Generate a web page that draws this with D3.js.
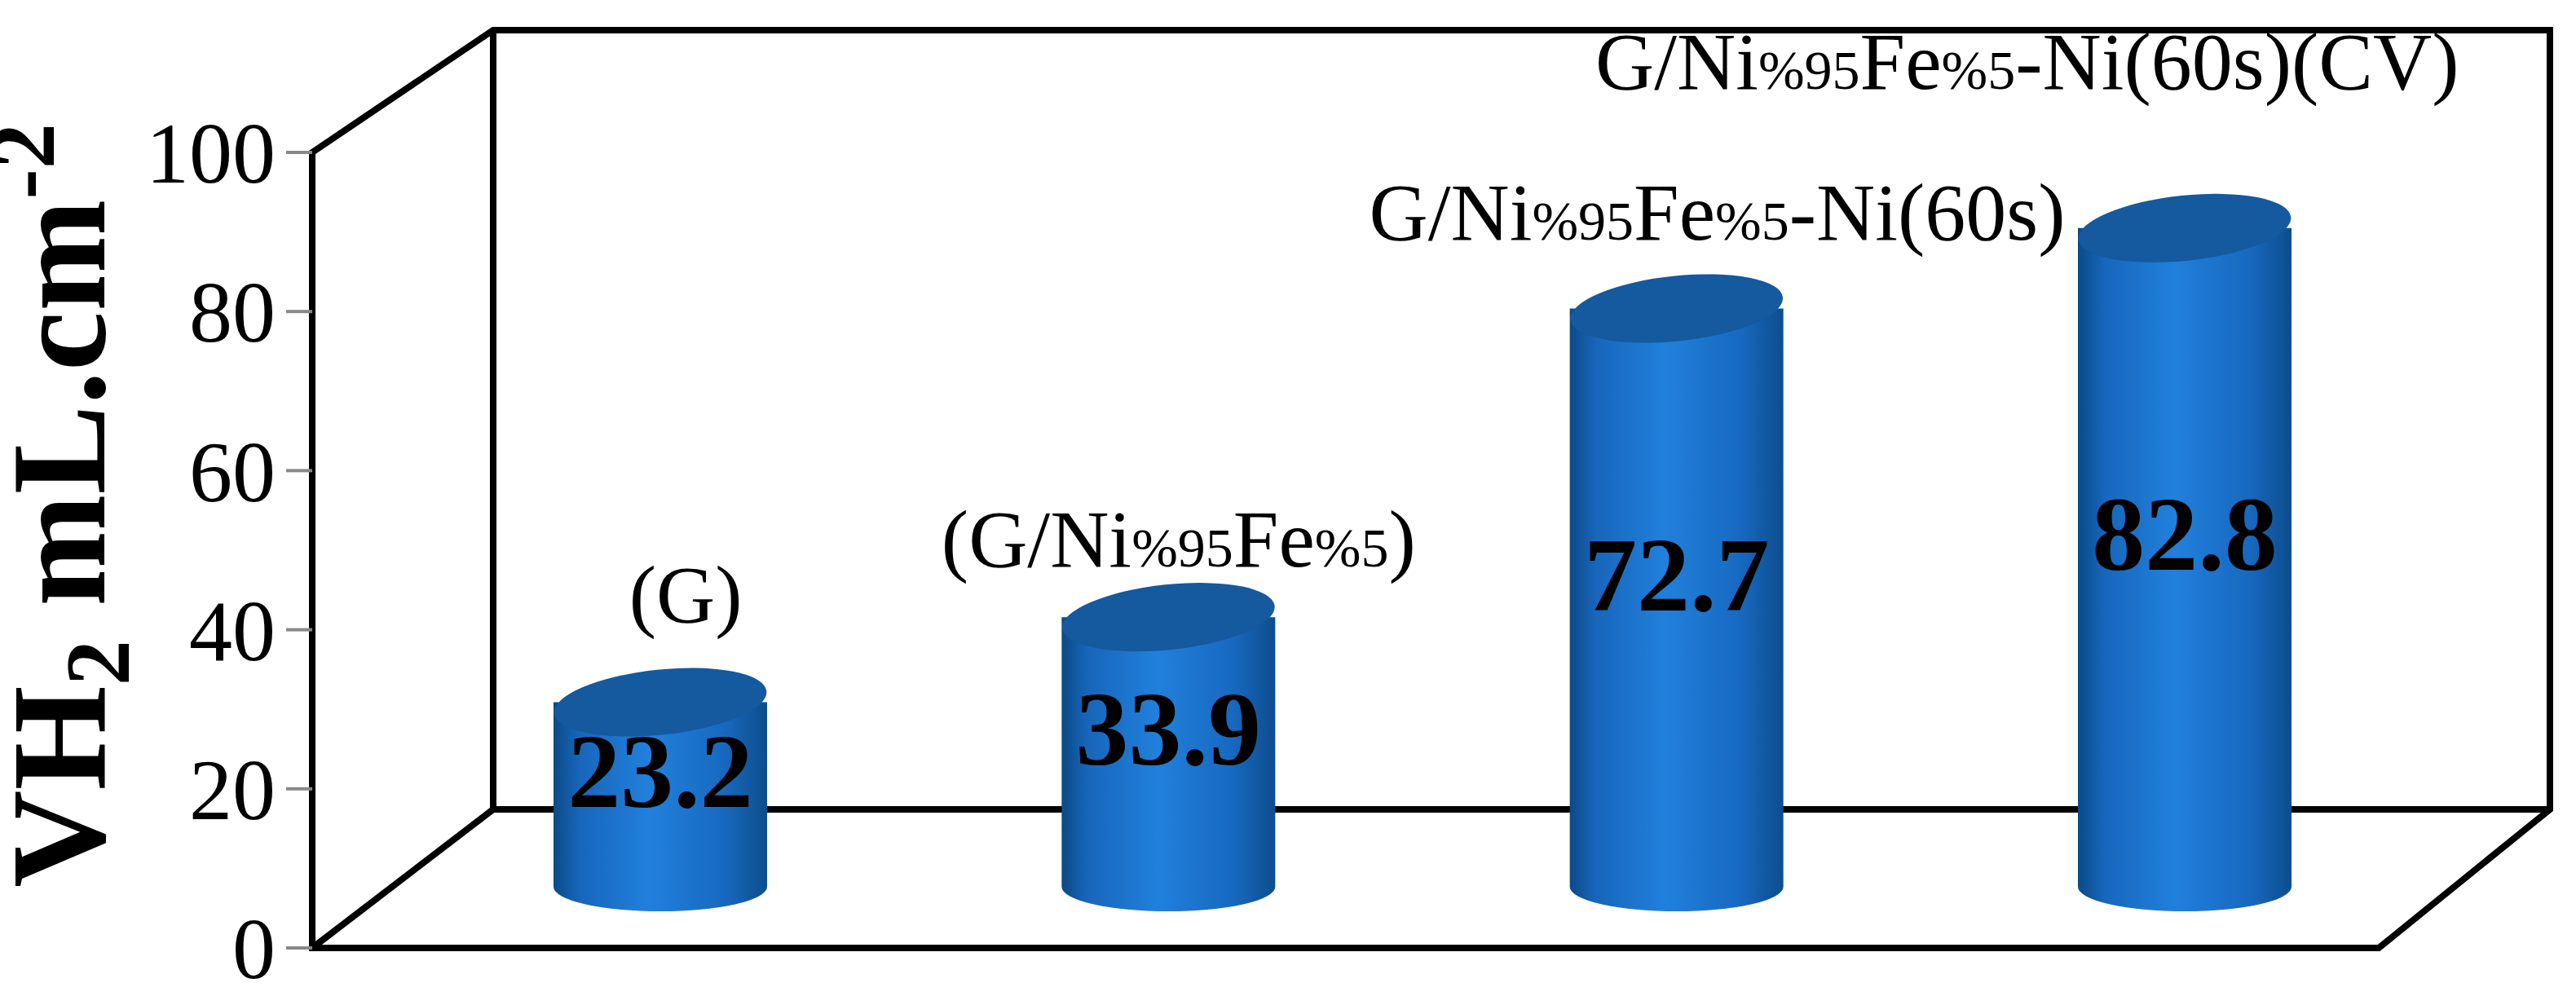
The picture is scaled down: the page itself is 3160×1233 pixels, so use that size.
<!DOCTYPE html>
<html><head><meta charset="utf-8">
<script src="https://cdn.jsdelivr.net/npm/d3@7"></script>
<style>body{margin:0;background:#fff}svg{display:block;font-family:"Liberation Serif","Times New Roman",serif}</style>
</head><body><div id="chart"></div>
<script>
var categories = ['(G)', '(G/Ni%95Fe%5)', 'G/Ni%95Fe%5-Ni(60s)', 'G/Ni%95Fe%5-Ni(60s)(CV)']
var values = [23.2, 33.9, 72.7, 82.8]
var yTicks = [0, 20, 40, 60, 80, 100]
// label anchors (value units, and shift in bar steps)
var labelY = [41, 48, 89, 108]
var labelDx = [0.05, 0.02, 0.08, -0.31]

var width = 3160, height = 1233
var svg = d3.select('#chart').append('svg').attr('width', width).attr('height', height)

var y = d3.scaleLinear().domain([0, 100]).range([1163, 187])
var depth = {dx: 222, dy: -170}
var x0 = 383, x1 = 2918
var x = d3.scalePoint().domain(d3.range(4)).range([810, 2680])
var barMid = {dx: 0, dy: -75}

// box lines
var g = svg.append('g').attr('fill', 'none').attr('stroke', '#000').attr('stroke-width', 8).attr('stroke-linejoin', 'miter')
var bx0 = x0 + depth.dx, bx1 = 3128
g.append('path').attr('d', `M${x0},${y(100)} L${bx0},${y(100) + depth.dy + 20} L${bx1},${y(100) + depth.dy + 20} L${bx1},${y(0) + depth.dy} L${x1},${y(0)} L${x0},${y(0)} Z`)
g.append('path').attr('d', `M${bx0},${y(100) + depth.dy + 20} L${bx0},${y(0) + depth.dy} L${bx1},${y(0) + depth.dy} M${bx0},${y(0) + depth.dy} L${x0},${y(0)}`)

// y ticks
svg.append('g').selectAll('line').data(yTicks).join('line')
  .attr('x1', x0 - 32).attr('x2', x0).attr('y1', y).attr('y2', y)
  .attr('stroke', '#888').attr('stroke-width', 4)
svg.append('g').selectAll('text').data(yTicks).join('text')
  .attr('x', x0 - 45).attr('y', d => y(d)).attr('dy', '0.35em')
  .attr('text-anchor', 'end').attr('font-size', 106).text(d => d)

// y title
var yt = svg.append('text').attr('transform', 'translate(128,620) rotate(-90)')
  .attr('text-anchor', 'middle').attr('font-size', 165).attr('font-weight', 'bold')
yt.append('tspan').text('VH')
yt.append('tspan').attr('font-size', 112).attr('dy', 30).text('2')
yt.append('tspan').attr('dy', -30).text(' mL.cm')
yt.append('tspan').attr('font-size', 112).attr('dy', -62).text('-2')

// gradients
var defs = svg.append('defs')
var grad = defs.append('linearGradient').attr('id', 'cyl')
grad.selectAll('stop').data([[0, '#0b4a86'], [0.12, '#1766bb'], [0.45, '#2180dc'], [0.8, '#1769c0'], [1, '#0d4d8c']]).join('stop')
  .attr('offset', d => d[0]).attr('stop-color', d => d[1])

var bw = 262, ry = 30, ryTop = 40
var base = y(0) + barMid.dy
var bars = svg.append('g').selectAll('g').data(values).join('g')
bars.append('path')
  .attr('d', (d, i) => {
    var cx = x(i), top = y(d) + barMid.dy, l = cx - bw / 2, r = cx + bw / 2
    return `M${l},${top} L${l},${base} A${bw / 2},${ry} 0 0 0 ${r},${base} L${r},${top} Z`
  })
  .attr('fill', 'url(#cyl)')
bars.append('ellipse')
  .attr('cx', (d, i) => x(i)).attr('cy', d => y(d) + barMid.dy)
  .attr('rx', bw / 2).attr('ry', ryTop)
  .attr('transform', (d, i) => `rotate(-6 ${x(i)} ${y(d) + barMid.dy})`)
  .attr('fill', '#15599e')
bars.append('text')
  .attr('x', (d, i) => x(i)).attr('y', d => y(d / 2) + barMid.dy - 30)
  .attr('dy', '0.35em').attr('text-anchor', 'middle')
  .attr('font-size', 130).attr('font-weight', 'bold').text(d => d)

// category labels, "%95"/"%5" smaller
var step = x(1) - x(0)
svg.append('g').selectAll('text').data(categories).join('text')
  .attr('x', (d, i) => x(i) + labelDx[i] * step).attr('y', (d, i) => y(labelY[i]))
  .attr('text-anchor', 'middle').attr('font-size', 100)
  .each(function(d) {
    var sel = d3.select(this)
    d.split(/(%\d+)/).forEach(p => {
      if (!p) return
      sel.append('tspan').attr('font-size', p[0] === '%' ? 68 : null).text(p)
    })
  })
</script></body></html>
